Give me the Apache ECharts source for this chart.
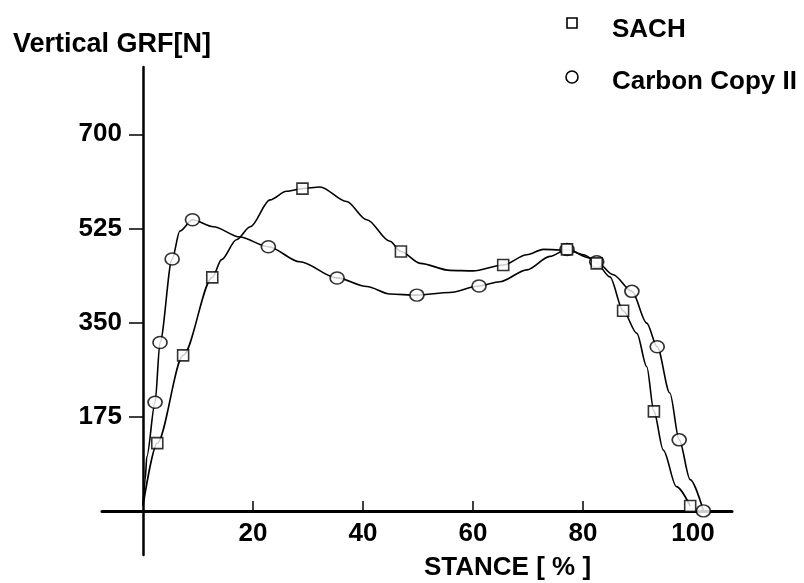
<!DOCTYPE html>
<html>
<head>
<meta charset="utf-8">
<script src="https://cdn.jsdelivr.net/npm/echarts@6/dist/echarts.min.js"></script>
<style>
html,body{margin:0;padding:0;background:#fff;}
#chart{width:804px;height:583px;}
</style>
</head>
<body>
<div id="chart"></div>
<script>
// ---- data ----
const xTickValues = [20, 40, 60, 80, 100];
const yTickValues = [175, 350, 525, 700];
const seriesNames = ['SACH', 'Carbon Copy II'];

// traced curve points [stance %, force N]
const sachCurve = [[0,9],[2.6,126],[7.3,289],[12.6,434],[14.3,467],[17.0,504],[19.5,528],[23.1,578],[26.1,594],[29.0,599],[32.2,602],[37.0,575],[40.7,541],[44.9,501],[46.9,482],[50.4,460],[55.8,447],[60.0,446],[65.5,457],[69.8,476],[72.8,486],[75.8,485],[77.1,486],[81.3,470],[82.5,460],[84.9,435],[87.3,372],[89.8,330],[91.6,268],[92.9,185],[94.6,113],[97.0,45],[99.5,9]];
const sachMarkers = [[2.6,126],[7.3,289],[12.6,434],[29.0,599],[46.9,482],[65.5,457],[77.1,486],[82.5,460],[87.3,372],[92.9,185],[99.5,9]];

const ccCurve = [[0,11],[0.4,58],[0.7,101],[2.2,202],[3.1,313],[5.3,468],[6.7,520],[9.0,541],[12.8,528],[17.6,509],[22.8,491],[28.5,463],[35.3,433],[40.7,417],[44.9,403],[49.8,401],[55.8,406],[61.1,418],[64.9,426],[69.8,448],[74.0,473],[77.1,486],[80.1,476],[82.5,463],[85.5,439],[88.9,408],[91.6,349],[93.5,305],[95.8,219],[97.5,132],[99.5,58],[101.9,0]];
const ccMarkers = [[2.2,202],[3.1,313],[5.3,468],[9.0,541],[22.8,491],[35.3,433],[49.8,401],[61.1,418],[77.1,486],[82.5,463],[88.9,408],[93.5,305],[97.5,132],[101.9,0]];

const FONT = '"Liberation Sans", Arial, "DejaVu Sans", sans-serif';

const chart = echarts.init(document.getElementById('chart'), null, {renderer: 'canvas'});

const option = {
  backgroundColor: '#fff',
  animation: false,
  grid: {left: 102, right: 72, top: 67, bottom: 28, containLabel: false},
  graphic: [
    {type: 'text', left: 13, top: 31, style: {text: 'Vertical GRF[N]', font: 'bold 27px ' + FONT, fill: '#000'}},
    {type: 'text', left: 424, top: 555, style: {text: 'STANCE [ % ]', font: 'bold 26px ' + FONT, fill: '#000'}},
    // legend
    {type: 'rect', shape: {x: 567, y: 18, width: 10, height: 10}, style: {fill: '#fff', stroke: '#000', lineWidth: 1.6}},
    {type: 'text', x: 612, y: 30, style: {text: seriesNames[0], font: 'bold 26px ' + FONT, fill: '#000', verticalAlign: 'middle', align: 'left'}},
    {type: 'circle', shape: {cx: 572, cy: 77, r: 6}, style: {fill: '#fff', stroke: '#000', lineWidth: 1.6}},
    {type: 'text', x: 612, y: 82, style: {text: seriesNames[1], font: 'bold 26px ' + FONT, fill: '#000', verticalAlign: 'middle', align: 'left'}}
  ],
  xAxis: {
    type: 'value', min: -7.45, max: 107.1,
    axisLine: {onZero: true, lineStyle: {color: '#000', width: 3}},
    axisTick: {show: true, inside: true, length: 10, customValues: xTickValues.slice(0, 4), lineStyle: {color: '#000', width: 1.5}},
    axisLabel: {customValues: xTickValues, margin: -34, color: '#000', fontFamily: FONT, fontSize: 26, fontWeight: 'bold'},
    splitLine: {show: false}
  },
  yAxis: {
    type: 'value', min: -82, max: 825,
    axisLine: {onZero: true, lineStyle: {color: '#000', width: 2.5}},
    axisTick: {show: true, inside: false, length: 14, customValues: yTickValues, lineStyle: {color: '#000', width: 1.5}},
    axisLabel: {customValues: yTickValues, margin: -20, color: '#000', fontFamily: FONT, fontSize: 26, fontWeight: 'bold'},
    splitLine: {show: false}
  },
  series: [
    {
      name: seriesNames[0], type: 'line', data: sachCurve, smooth: 0.3, smoothMonotone: 'x',
      showSymbol: false, symbol: 'none', lineStyle: {color: '#000', width: 1.6}, itemStyle: {color: '#000'}, z: 2
    },
    {
      name: seriesNames[1], type: 'line', data: ccCurve, smooth: 0.3, smoothMonotone: 'x',
      showSymbol: false, symbol: 'none', lineStyle: {color: '#000', width: 1.6}, itemStyle: {color: '#000'}, z: 2
    },
    {
      name: seriesNames[1], type: 'scatter', data: ccMarkers, symbol: 'circle', symbolSize: [14, 12],
      itemStyle: {color: '#fff', borderColor: '#000', borderWidth: 1.6}, z: 3
    },
    {
      name: seriesNames[0], type: 'scatter', data: sachMarkers, symbol: 'rect', symbolSize: 11,
      itemStyle: {color: '#fff', borderColor: '#000', borderWidth: 1.6}, z: 4
    }
  ]
};
chart.setOption(option);
</script>
</body>
</html>
